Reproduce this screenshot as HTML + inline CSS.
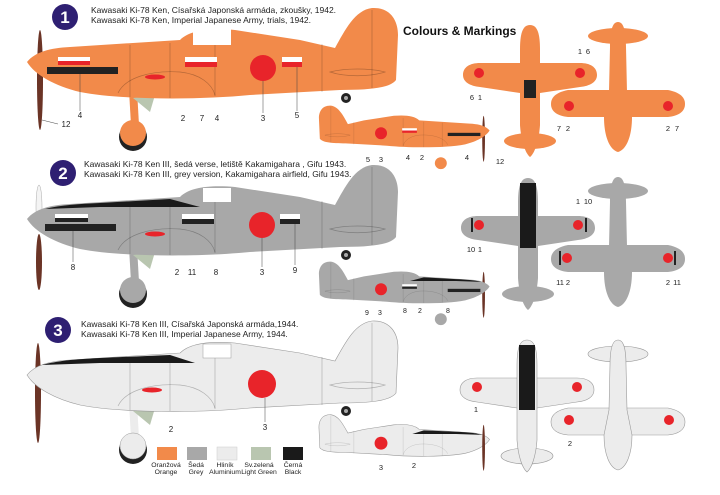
<!DOCTYPE html>
<html><head><meta charset="utf-8"><style>
html,body{margin:0;padding:0;background:#fff}
svg{display:block}
text{font-family:"Liberation Sans",sans-serif}
</style></head><body>
<svg width="720" height="495" viewBox="0 0 720 495" xmlns="http://www.w3.org/2000/svg">
<defs>
<path id="fus" d="M27,62 C35,52 50,48 70,47 L180,40 C190,30 210,28 235,30 L300,40 L335,48 C345,30 355,10 372,8 C390,7 398,20 398,35 L396,80 C390,88 370,90 340,90 L250,95 C200,100 120,100 80,92 C55,86 35,75 27,62 Z"/>
<g id="det" fill="none" stroke="#000" stroke-opacity="0.25" stroke-width="0.7">
<path d="M118,93 C125,78 150,70 180,72 C200,74 212,84 215,95"/>
<line x1="130" y1="45" x2="130" y2="97"/><line x1="170" y1="43" x2="170" y2="98"/>
<line x1="215" y1="35" x2="215" y2="96"/><line x1="322" y1="44" x2="322" y2="92"/>
<path d="M330,72 C345,68 370,68 385,72 C370,77 345,77 330,72Z"/>
<line x1="372" y1="10" x2="372" y2="88"/>
</g>
<g id="top">
<path d="M-67,50 C-67,42 -60,38 -50,38 L50,38 C60,38 67,42 67,50 C67,57 60,61 50,62 L10,68 L-10,68 L-50,62 C-60,61 -67,57 -67,50Z"/>
<ellipse cx="0" cy="116" rx="26" ry="8"/>
<path d="M0,0 C8,0 10,10 10,25 L10,100 C9,115 5,128 0,132 C-5,128 -9,115 -10,100 L-10,25 C-10,10 -8,0 0,0Z"/>
</g>
<g id="bot">
<ellipse cx="0" cy="14" rx="30" ry="8"/>
<path d="M-67,82 C-67,74 -60,70 -50,68 L50,68 C60,70 67,74 67,82 C67,90 60,94 50,95 L-50,95 C-60,94 -67,90 -67,82Z"/>
<path d="M0,0 C6,0 8,10 8,25 L9,70 L14,95 C14,115 8,128 0,130 C-8,128 -14,115 -14,95 L-9,70 L-8,25 C-8,10 -6,0 0,0Z"/>
</g>
</defs>

<!-- Row 1 -->
<circle cx="65" cy="17" r="13" fill="#2e1f72"/><text x="65" y="23" font-size="17" font-weight="bold" fill="#fff" text-anchor="middle">1</text>
<text x="91" y="13" font-size="8.5" fill="#222">Kawasaki Ki-78 Ken, Císařská Japonská armáda, zkoušky, 1942.</text>
<text x="91" y="23" font-size="8.5" fill="#222">Kawasaki Ki-78 Ken, Imperial Japanese Army, trials, 1942.</text>
<text x="403" y="35" font-size="12" font-weight="bold" fill="#111">Colours &amp; Markings</text>

<g>
<ellipse cx="40" cy="80" rx="3" ry="50" fill="#6b3426"/>
<line x1="133" y1="90" x2="135" y2="125" stroke="#f28a4a" stroke-width="8"/>
<path d="M133,98 L155,95 L150,112Z" fill="#b9c6b0"/>
<circle cx="133" cy="137" r="14" fill="#222"/><circle cx="133" cy="133" r="13" fill="#f28a4a"/>
<circle cx="346" cy="98" r="5" fill="#222"/><circle cx="346" cy="98" r="2" fill="#aaa"/>
<use href="#fus" fill="#f28a4a"/>
<use href="#det"/>
<rect x="193" y="29" width="38" height="16" fill="#fff"/>
<rect x="47" y="67" width="71" height="7" fill="#222"/>
<rect x="58" y="57" width="32" height="4" fill="#fff"/><rect x="58" y="61" width="32" height="4" fill="#e8242a"/>
<rect x="185" y="57" width="32" height="5" fill="#fff"/><rect x="185" y="62" width="32" height="5" fill="#e8242a"/>
<rect x="282" y="57" width="20" height="5" fill="#fff"/><rect x="282" y="62" width="20" height="5" fill="#e8242a"/>
<circle cx="263" cy="68" r="13" fill="#e8242a"/>
<ellipse cx="155" cy="77" rx="10" ry="2.5" fill="#e8242a"/>
</g>
<g font-size="8" fill="#222" text-anchor="middle">
<text x="80" y="118">4</text><text x="66" y="127">12</text><text x="183" y="121">2</text><text x="202" y="121">7</text><text x="217" y="121">4</text><text x="263" y="121">3</text><text x="297" y="118">5</text>
</g>
<g stroke="#444" stroke-width="0.5">
<line x1="80" y1="74" x2="80" y2="111"/><line x1="263" y1="81" x2="263" y2="113"/><line x1="297" y1="67" x2="297" y2="111"/><line x1="42" y1="120" x2="58" y2="124"/>
</g>

<!-- small side 1 -->
<g transform="translate(502,102) scale(-0.46,0.46)">
<ellipse cx="40" cy="80" rx="3" ry="50" fill="#6b3426"/>
<circle cx="133" cy="133" r="13" fill="#f28a4a"/>
<use href="#fus" fill="#f28a4a"/>
<use href="#det"/>
<rect x="47" y="67" width="71" height="7" fill="#222"/>
<rect x="185" y="57" width="32" height="5" fill="#fff"/><rect x="185" y="62" width="32" height="5" fill="#e8242a"/>
<circle cx="263" cy="68" r="13" fill="#e8242a"/>
</g>
<g font-size="7.5" fill="#222" text-anchor="middle"><text x="368" y="162">5</text><text x="381" y="162">3</text><text x="408" y="160">4</text><text x="422" y="160">2</text><text x="467" y="160">4</text><text x="500" y="164">12</text></g>

<!-- plan views row 1 -->
<g transform="translate(530,25)" fill="#f28a4a"><use href="#top"/><rect x="-6" y="55" width="12" height="18" fill="#222"/></g>
<g fill="#e8242a"><circle cx="479" cy="73" r="5"/><circle cx="580" cy="73" r="5"/></g>
<g transform="translate(618,22)" fill="#f28a4a"><use href="#bot"/></g>
<g fill="#e8242a"><circle cx="569" cy="106" r="5"/><circle cx="668" cy="106" r="5"/></g>
<g font-size="7.5" fill="#222" text-anchor="middle"><text x="472" y="100">6</text><text x="480" y="100">1</text><text x="580" y="54">1</text><text x="588" y="54">6</text><text x="559" y="131">7</text><text x="568" y="131">2</text><text x="668" y="131">2</text><text x="677" y="131">7</text></g>

<!-- Row 2 -->
<circle cx="63" cy="173" r="13" fill="#2e1f72"/><text x="63" y="179" font-size="17" font-weight="bold" fill="#fff" text-anchor="middle">2</text>
<text x="84" y="167" font-size="8.5" fill="#222">Kawasaki Ki-78 Ken III, šedá verse, letiště Kakamigahara , Gifu 1943.</text>
<text x="84" y="177" font-size="8.5" fill="#222">Kawasaki Ki-78 Ken III, grey version, Kakamigahara airfield, Gifu 1943.</text>
<g transform="translate(0,157)">
<ellipse cx="39" cy="50" rx="3" ry="22" fill="#f4f4f4" stroke="#aaa" stroke-width="0.5"/>
<ellipse cx="39" cy="105" rx="3" ry="28" fill="#6b3426"/>
<line x1="133" y1="90" x2="135" y2="125" stroke="#a8a8a8" stroke-width="8"/>
<path d="M133,98 L155,95 L150,112Z" fill="#b9c6b0"/>
<circle cx="133" cy="137" r="14" fill="#222"/><circle cx="133" cy="133" r="13" fill="#a8a8a8"/>
<circle cx="346" cy="98" r="5" fill="#222"/><circle cx="346" cy="98" r="2" fill="#aaa"/>
<use href="#fus" fill="#a8a8a8"/>
<use href="#det"/>
<path d="M45,52 C60,48 80,47 100,46 L170,42 L200,50 L100,50 Z" fill="#1a1a1a"/>
<rect x="203" y="31" width="28" height="14" fill="#fff"/>
<rect x="45" y="67" width="71" height="7" fill="#222"/>
<rect x="55" y="57" width="33" height="4" fill="#fff"/><rect x="55" y="61" width="33" height="4" fill="#222"/>
<rect x="182" y="57" width="32" height="5" fill="#fff"/><rect x="182" y="62" width="32" height="5" fill="#222"/>
<rect x="280" y="57" width="20" height="5" fill="#fff"/><rect x="280" y="62" width="20" height="5" fill="#222"/>
<circle cx="262" cy="68" r="13" fill="#e8242a"/>
<ellipse cx="155" cy="77" rx="10" ry="2.5" fill="#e8242a"/>
</g>
<g font-size="8" fill="#222" text-anchor="middle"><text x="73" y="270">8</text><text x="177" y="275">2</text><text x="192" y="275">11</text><text x="216" y="275">8</text><text x="262" y="275">3</text><text x="295" y="273">9</text></g>
<g stroke="#444" stroke-width="0.5"><line x1="73" y1="231" x2="73" y2="262"/><line x1="262" y1="238" x2="262" y2="267"/><line x1="295" y1="224" x2="295" y2="265"/></g>

<g transform="translate(502,258) scale(-0.46,0.46)">
<ellipse cx="40" cy="80" rx="3" ry="50" fill="#6b3426"/>
<circle cx="133" cy="133" r="13" fill="#a8a8a8"/>
<use href="#fus" fill="#a8a8a8"/>
<use href="#det"/>
<path d="M45,52 C60,48 80,47 100,46 L170,42 L200,50 L100,50 Z" fill="#1a1a1a"/>
<rect x="47" y="67" width="71" height="7" fill="#222"/>
<rect x="185" y="57" width="32" height="5" fill="#fff"/><rect x="185" y="62" width="32" height="5" fill="#222"/>
<circle cx="263" cy="68" r="13" fill="#e8242a"/>
</g>
<g font-size="7" fill="#222" text-anchor="middle"><text x="367" y="315">9</text><text x="380" y="315">3</text><text x="405" y="313">8</text><text x="420" y="313">2</text><text x="448" y="313">8</text></g>

<g transform="translate(528,178)" fill="#a8a8a8"><use href="#top"/><rect x="-8" y="5" width="16" height="65" fill="#1a1a1a"/></g>
<g fill="#222"><rect x="471" y="218" width="2" height="14"/><rect x="585" y="218" width="2" height="14"/></g>
<g fill="#e8242a"><circle cx="479" cy="225" r="5"/><circle cx="578" cy="225" r="5"/></g>
<g transform="translate(618,177)" fill="#a8a8a8"><use href="#bot"/></g>
<g fill="#222"><rect x="559" y="251" width="2" height="14"/><rect x="674" y="251" width="2" height="14"/></g>
<g fill="#e8242a"><circle cx="567" cy="258" r="5"/><circle cx="668" cy="258" r="5"/></g>
<g font-size="7.5" fill="#222" text-anchor="middle"><text x="471" y="252">10</text><text x="480" y="252">1</text><text x="578" y="204">1</text><text x="588" y="204">10</text><text x="560" y="285">11</text><text x="568" y="285">2</text><text x="668" y="285">2</text><text x="677" y="285">11</text></g>

<!-- Row 3 -->
<circle cx="58" cy="330" r="13" fill="#2e1f72"/><text x="58" y="336" font-size="17" font-weight="bold" fill="#fff" text-anchor="middle">3</text>
<text x="81" y="327" font-size="8.5" fill="#222">Kawasaki Ki-78 Ken III, Císařská Japonská armáda,1944.</text>
<text x="81" y="337" font-size="8.5" fill="#222">Kawasaki Ki-78 Ken III, Imperial Japanese Army, 1944.</text>
<g transform="translate(0,313)">
<ellipse cx="38" cy="80" rx="3" ry="50" fill="#6b3426"/>
<line x1="133" y1="90" x2="135" y2="125" stroke="#ececec" stroke-width="8"/>
<path d="M133,98 L155,95 L150,112Z" fill="#b9c6b0"/>
<circle cx="133" cy="137" r="14" fill="#222"/><circle cx="133" cy="133" r="13" fill="#ececec" stroke="#999" stroke-width="0.5"/>
<circle cx="346" cy="98" r="5" fill="#222"/><circle cx="346" cy="98" r="2" fill="#aaa"/>
<use href="#fus" fill="#ececec" stroke="#999" stroke-width="0.6"/>
<use href="#det"/>
<path d="M42,52 C60,47 80,46 100,45 L170,42 L195,50 L100,50 Z" fill="#1a1a1a"/>
<rect x="203" y="31" width="28" height="14" fill="#fff" stroke="#999" stroke-width="0.5"/>
<circle cx="262" cy="71" r="14" fill="#e8242a"/>
<ellipse cx="152" cy="77" rx="10" ry="2.5" fill="#e8242a"/>
</g>
<g font-size="8" fill="#222" text-anchor="middle"><text x="171" y="432">2</text><text x="265" y="430">3</text></g>
<line x1="265" y1="398" x2="265" y2="422" stroke="#444" stroke-width="0.5"/>

<g transform="translate(502,411) scale(-0.46,0.46)">
<use href="#fus" fill="#ececec" stroke="#999" stroke-width="1.2"/>
<use href="#det"/>
<path d="M42,52 C60,47 80,46 100,45 L170,42 L195,50 L100,50 Z" fill="#1a1a1a"/>
<circle cx="263" cy="70" r="14" fill="#e8242a"/>
<ellipse cx="40" cy="80" rx="3" ry="50" fill="#6b3426"/>
</g>
<g font-size="7.5" fill="#222" text-anchor="middle"><text x="381" y="470">3</text><text x="414" y="468">2</text></g>

<g transform="translate(527,340)" fill="#ececec" stroke="#999" stroke-width="0.6"><use href="#top"/><rect x="-8" y="5" width="16" height="65" fill="#1a1a1a" stroke="none"/></g>
<g fill="#e8242a"><circle cx="477" cy="387" r="5"/><circle cx="577" cy="387" r="5"/></g>
<g transform="translate(618,340)" fill="#ececec" stroke="#999" stroke-width="0.6"><use href="#bot"/></g>
<g fill="#e8242a"><circle cx="569" cy="420" r="5"/><circle cx="669" cy="420" r="5"/></g>
<g font-size="7.5" fill="#222" text-anchor="middle"><text x="476" y="412">1</text><text x="570" y="446">2</text></g>

<!-- legend -->
<rect x="157" y="447" width="20" height="13" fill="#f28a4a"/>
<rect x="187" y="447" width="20" height="13" fill="#a8a8a8"/>
<rect x="217" y="447" width="20" height="13" fill="#ececec" stroke="#ccc" stroke-width="0.5"/>
<rect x="251" y="447" width="20" height="13" fill="#b9c6b0"/>
<rect x="283" y="447" width="20" height="13" fill="#1a1a1a"/>
<g font-size="6.8" fill="#222" text-anchor="middle">
<text x="166" y="467">Oranžová</text><text x="166" y="474">Orange</text>
<text x="196" y="467">Šedá</text><text x="196" y="474">Grey</text>
<text x="225" y="467">Hliník</text><text x="225" y="474">Aluminium</text>
<text x="259" y="467">Sv.zelená</text><text x="259" y="474">Light Green</text>
<text x="293" y="467">Černá</text><text x="293" y="474">Black</text>
</g>
</svg>
</body></html>
